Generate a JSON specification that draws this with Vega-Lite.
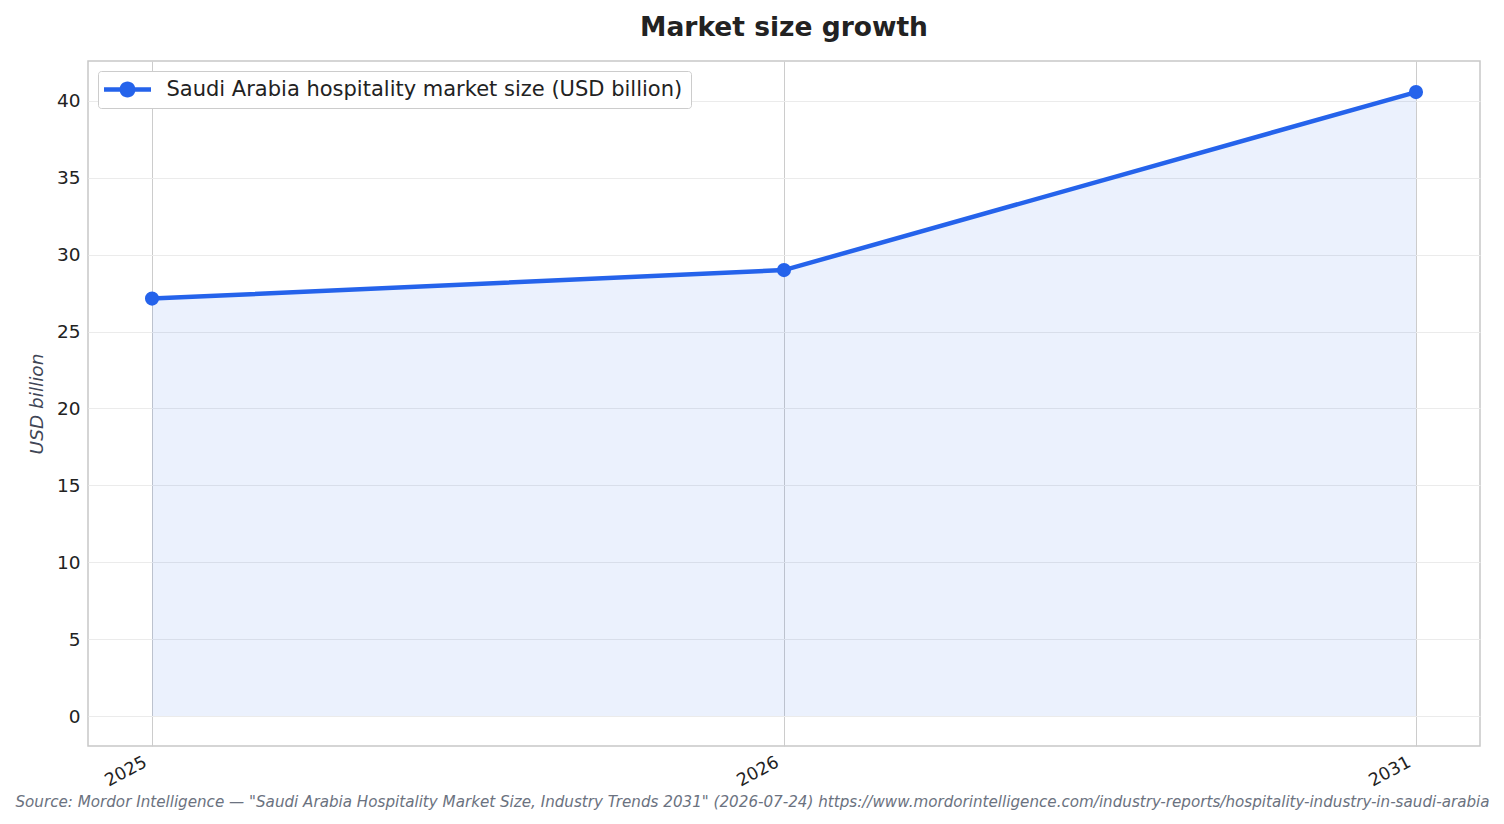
{
  "$schema": "https://vega.github.io/schema/vega-lite/v6.json",
  "width": 1392,
  "height": 685,
  "autosize": {"type": "none"},
  "padding": {"left": 88, "top": 61, "right": 24, "bottom": 78},
  "background": "white",
  "config": {
    "font": "DejaVu Sans",
    "view": {"stroke": "#c8c8c8", "strokeWidth": 1.5}
  },
  "title": {
    "text": "Market size growth",
    "fontSize": 26.5,
    "fontWeight": "bold",
    "color": "#222222",
    "anchor": "middle",
    "offset": 20
  },
  "data": {
    "values": [
      {"year": "2025", "value": 27.15, "series": "Saudi Arabia hospitality market size (USD billion)"},
      {"year": "2026", "value": 29.0, "series": "Saudi Arabia hospitality market size (USD billion)"},
      {"year": "2031", "value": 40.58, "series": "Saudi Arabia hospitality market size (USD billion)"}
    ]
  },
  "encoding": {
    "x": {
      "field": "year",
      "type": "ordinal",
      "scale": {"type": "point", "padding": 0.1013},
      "axis": {
        "title": "Source: Mordor Intelligence — \"Saudi Arabia Hospitality Market Size, Industry Trends 2031\" (2026-07-24) https://www.mordorintelligence.com/industry-reports/hospitality-industry-in-saudi-arabia",
        "titleFontStyle": "italic",
        "titleFontWeight": "normal",
        "titleFontSize": 15.15,
        "titleColor": "#6b7280",
        "titleAnchor": "middle",
        "titleAlign": "center",
        "titleBaseline": "middle",
        "titleX": 664,
        "titleY": 55,
        "titleLimit": 0,
        "grid": true,
        "gridColor": "#cccccc",
        "gridWidth": 1,
        "ticks": false,
        "domain": false,
        "labelAngle": -28,
        "labelAlign": "right",
        "labelBaseline": "top",
        "labelFontSize": 17.5,
        "labelColor": "#222222",
        "labelPadding": 7,
        "labelOffset": -11
      }
    },
    "y": {
      "field": "value",
      "type": "quantitative",
      "scale": {"domain": [-1.95, 42.6], "nice": false, "zero": false},
      "axis": {
        "values": [0, 5, 10, 15, 20, 25, 30, 35, 40],
        "title": "USD billion",
        "titleFontStyle": "italic",
        "titleFontWeight": "normal",
        "titleFontSize": 18.5,
        "titleColor": "#3f4656",
        "titlePadding": 10,
        "grid": true,
        "gridColor": "#ebebeb",
        "ticks": false,
        "domain": false,
        "labelFontSize": 18.5,
        "labelColor": "#222222",
        "labelPadding": 8
      }
    }
  },
  "layer": [
    {
      "mark": {"type": "area", "color": "#2563eb", "opacity": 0.09},
      "encoding": {"y2": {"datum": 0}}
    },
    {
      "mark": {"type": "line", "color": "#2563eb", "strokeWidth": 4.5}
    },
    {
      "mark": {"type": "point", "filled": true, "size": 200, "opacity": 1},
      "encoding": {
        "color": {
          "field": "series",
          "type": "nominal",
          "scale": {"range": ["#2563eb"]},
          "legend": {
            "title": null,
            "orient": "top-left",
            "offset": 10,
            "strokeColor": "#cccccc",
            "fillColor": "white",
            "cornerRadius": 3,
            "padding": 8,
            "labelFontSize": 21,
            "labelColor": "#222222",
            "labelLimit": 0,
            "labelOffset": 28.5,
            "symbolOffset": 11,
            "symbolType": "M-2.35,-0.23L2.35,-0.23L2.35,0.23L-2.35,0.23Z M-0.8,0A0.8,0.8 0 1,1 0.8,0A0.8,0.8 0 1,1 -0.8,0Z",
            "symbolSize": 400,
            "symbolStrokeWidth": 0,
            "symbolOpacity": 1
          }
        }
      }
    }
  ]
}
